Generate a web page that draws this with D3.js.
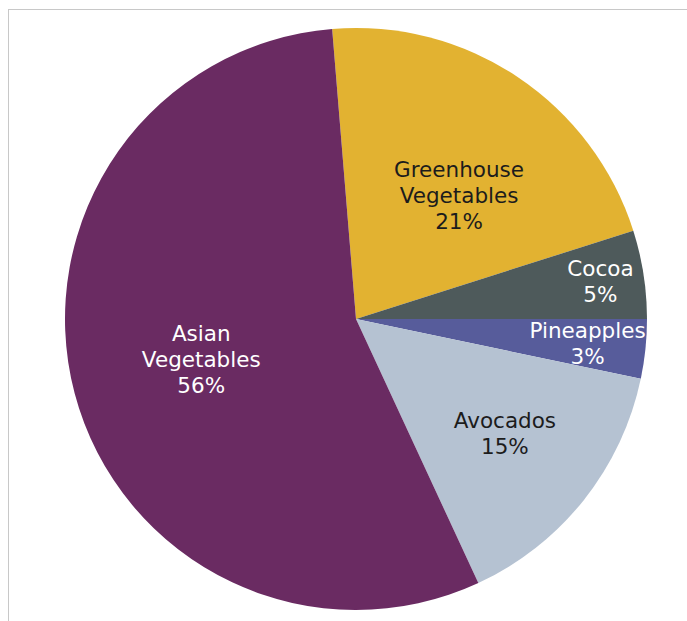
<!DOCTYPE html>
<html><head><meta charset="utf-8">
<script src="https://cdn.jsdelivr.net/npm/d3@7"></script>
<style>html,body{margin:0;padding:0;background:#fff;}svg{display:block;}</style>
</head><body>
<svg id="chart" width="687" height="621"></svg>
<script>
const categories = ["Greenhouse Vegetables", "Cocoa", "Pineapples", "Avocados", "Asian Vegetables"];
const values = [21.4, 4.9, 3.3, 14.8, 55.6];
const labelLines = [["Greenhouse", "Vegetables"], ["Cocoa"], ["Pineapples"], ["Avocados"], ["Asian", "Vegetables"]];
const colors = ["#e2b231", "#4e5a5b", "#575c9b", "#b5c2d2", "#6a2b62"];
const textColors = ["#1c1c1c", "#ffffff", "#ffffff", "#1c1c1c", "#ffffff"];

const svg = d3.select("#chart");
// frame
svg.append("rect").attr("x", 8.5).attr("y", 9.5).attr("width", 700).attr("height", 700)
  .attr("fill", "none").attr("stroke", "#c8c8c8").attr("stroke-width", 1);

const cx = 356, cy = 319, R = 291;
const data = categories.map((c, i) => ({cat: c, value: values[i], lines: labelLines[i], color: colors[i], tc: textColors[i]}));
const total = d3.sum(values);
const start = -4.7 * Math.PI / 180;
const pie = d3.pie().value(d => d.value).sort(null).startAngle(start).endAngle(start + 2 * Math.PI);
const arcs = pie(data);
const arc = d3.arc().innerRadius(0).outerRadius(R);
const g = svg.append("g").attr("transform", `translate(${cx},${cy})`);
g.selectAll("path").data(arcs).enter().append("path")
  .attr("d", arc).attr("fill", d => d.data.color);

// label placement (fraction of radius, angular nudge in degrees)
const labelPos = {
  "Greenhouse Vegetables": [0.553, 6],
  "Cocoa": [0.85, 0],
  "Pineapples": [0.80, 0],
  "Avocados": [0.645, -1],
  "Asian Vegetables": [0.55, 0]
};
const fmt = v => Math.round(v / total * 100) + "%";
const lineH = 26;
arcs.forEach(a => {
  const [frac, nudge] = labelPos[a.data.cat];
  const mid = (a.startAngle + a.endAngle) / 2 + nudge * Math.PI / 180;
  const r = R * frac;
  const x = r * Math.sin(mid), y = -r * Math.cos(mid);
  const lines = a.data.lines.concat([fmt(a.data.value)]);
  const t = g.append("text").attr("text-anchor", "middle")
    .attr("font-family", "Verdana, 'DejaVu Sans', sans-serif").attr("font-size", 21.5)
    .attr("fill", a.data.tc);
  const y0 = y - (lines.length - 1) * lineH / 2 + 7.5;
  lines.forEach((l, i) => t.append("tspan").attr("x", x).attr("y", y0 + i * lineH).text(l));
});
</script>
</body></html>
